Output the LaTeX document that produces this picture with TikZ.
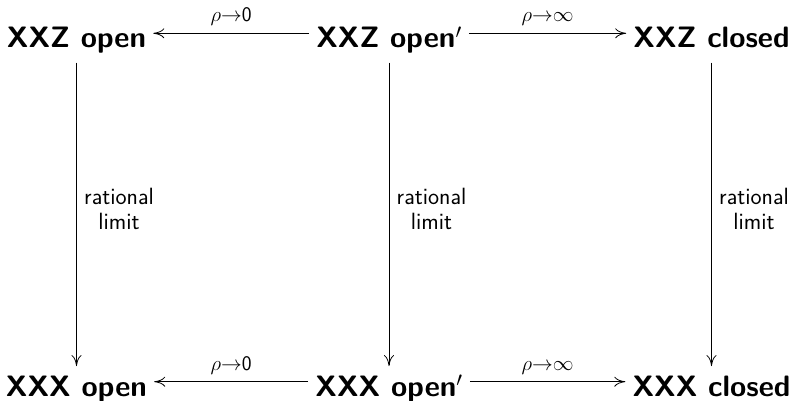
\documentclass[tikz,border=0pt]{standalone}
\usetikzlibrary{arrows.meta}
\begin{document}
\begin{tikzpicture}[x=1pt,y=-1pt,
  obj/.style={font=\fontsize{29.5}{35}\selectfont\sffamily\bfseries, anchor=base,
    text height=20.5pt, text depth=5.7pt, inner xsep=7pt, inner ysep=9.2pt},
  arr/.style={line width=0.8pt, -{Computer Modern Rightarrow[length=11pt,width=10pt]}},
  hlab/.style={font=\fontsize{21}{25}\selectfont\sffamily, anchor=base, midway, yshift=11.3pt, inner sep=0pt},
  vlab/.style={font=\fontsize{23.5}{25}\selectfont\sffamily, align=center, anchor=west, midway, xshift=4pt, yshift=5pt}]
\useasboundingbox (0,0) rectangle (798,401);
\node[obj] (a1) at (76.5,47.5) {XXZ open};
\node[obj] (a2) at (389,47.5) {XXZ open$'$};
\node[obj] (a3) at (711.5,47.5) {XXZ closed};
\node[obj] (b1) at (76.5,396) {XXX open};
\node[obj] (b2) at (389,396) {XXX open$'$};
\node[obj] (b3) at (711.5,396) {XXX closed};
\draw[arr] ([yshift=6.8pt]a2.west) -- node[hlab] {$\rho{\to}\mathsf{0}$} ([yshift=6.8pt]a1.east);
\draw[arr] ([yshift=6.8pt]a2.east) -- node[hlab] {$\rho{\to}\infty$} ([yshift=6.8pt]a3.west);
\draw[arr] ([yshift=6.9pt]b2.west) -- node[hlab] {$\rho{\to}\mathsf{0}$} ([yshift=6.9pt]b1.east);
\draw[arr] ([yshift=6.9pt]b2.east) -- node[hlab] {$\rho{\to}\infty$} ([yshift=6.9pt]b3.west);
\draw[arr] (a1) -- node[vlab] {rational\\limit} (b1);
\draw[arr] (a2) -- node[vlab] {rational\\limit} (b2);
\draw[arr] (a3) -- node[vlab] {rational\\limit} (b3);
\end{tikzpicture}
\end{document}
